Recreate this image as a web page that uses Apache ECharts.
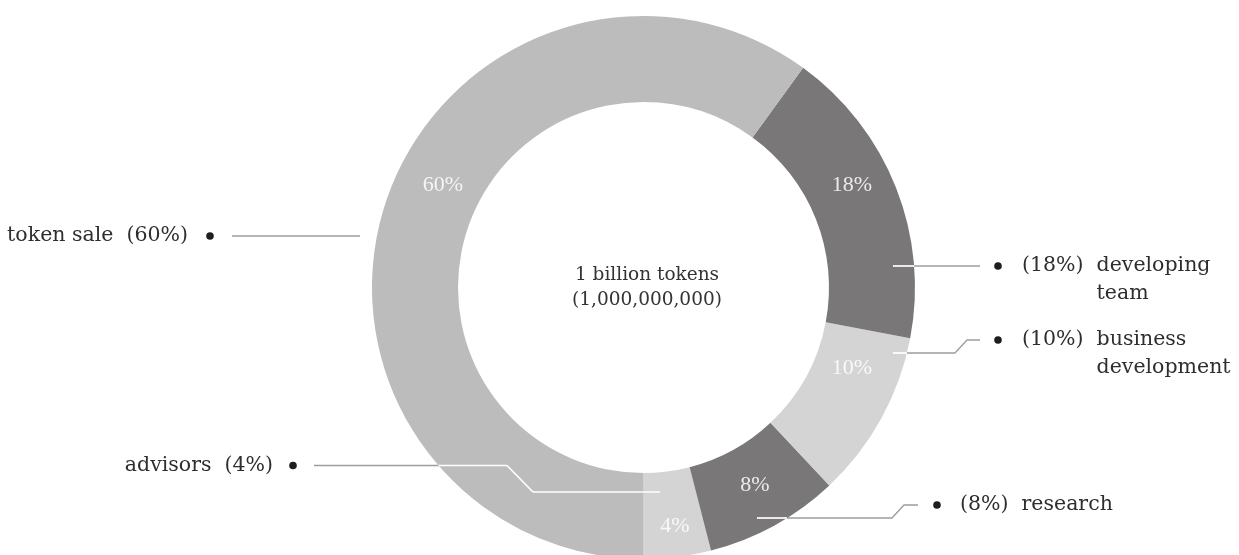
<!DOCTYPE html>
<html><head><meta charset="utf-8">
<script src="https://cdn.jsdelivr.net/npm/echarts@6/dist/echarts.min.js"></script>
<style>html,body{margin:0;padding:0;background:#fff}#chart{width:1239px;height:555px}</style>
</head><body><div id="chart"></div>
<script>
// ---- data ----
const categories = ['advisors', 'research', 'business\ndevelopment', 'developing\nteam', 'token sale'];
const values = [4, 8, 10, 18, 60];
const sliceColors = ['#d4d4d4', '#797777', '#d4d4d4', '#797777', '#bcbcbc'];
const centerLines = ['1 billion tokens', '(1,000,000,000)'];

// ---- layout ----
const CX = 643.5, CY = 287.5, R_IN = 185.5, R_OUT = 271.5;
const FONT = 'DejaVu Serif';
const TEXT_COLOR = '#2e2e2e';
const LINE_H = 28;
// inside percentage label offsets from centre
const insideOffsets = [[31.5, 238.5], [111.5, 197.5], [208.5, 80.5], [208.5, -102.5], [-200.5, -102.5]];
// callouts (offsets from centre): text anchor = first line centre
const callouts = [
  {side: 'left',  text: [-370.5, 178],  dot: [-350.5, 178],
   line: [[16.5, 204.5], [-110.5, 204.5], [-136.5, 178], [-329.5, 178]]},
  {side: 'right', text: [316.5, 217.5], dot: [293.5, 217.5],
   line: [[113.5, 230.5], [248.5, 230.5], [260.5, 217.5], [274.5, 217.5]]},
  {side: 'right', text: [378.5, 52.5],  dot: [354.5, 52.5],
   line: [[249.5, 65.5], [311.5, 65.5], [323.5, 52.5], [336.5, 52.5]]},
  {side: 'right', text: [378.5, -21.5], dot: [354.5, -21.5],
   line: [[249.5, -21.5], [336.5, -21.5]]},
  {side: 'left',  text: [-455.5, -51.5], dot: [-433.5, -51.5],
   line: [[-411.5, -51.5], [-283.5, -51.5]]}
];

const data = categories.map((n, i) => ({name: n, value: values[i], itemStyle: {color: sliceColors[i]}}));

function calloutText(i) {
  const pct = '(' + values[i] + '%)';
  const parts = categories[i].split('\n');
  if (callouts[i].side === 'left') {
    return '{n|' + parts[0] + '}  {p|' + pct + '}';
  }
  let s = '{p|' + pct + '}  {n|' + parts[0] + '}';
  for (let k = 1; k < parts.length; k++) s += '\n{ph|' + pct + '}  {n|' + parts[k] + '}';
  return s;
}

function clipInside(p0, p1) {
  const dx = p1[0] - p0[0], dy = p1[1] - p0[1];
  const fx = p0[0] - CX, fy = p0[1] - CY;
  const A = dx * dx + dy * dy, B = 2 * (fx * dx + fy * dy), C = fx * fx + fy * fy - R_OUT * R_OUT;
  const disc = B * B - 4 * A * C;
  if (disc <= 0) return null;
  const s = Math.sqrt(disc);
  let t1 = Math.max((-B - s) / (2 * A), 0), t2 = Math.min((-B + s) / (2 * A), 1);
  if (t2 <= t1) return null;
  return [[p0[0] + dx * t1, p0[1] + dy * t1], [p0[0] + dx * t2, p0[1] + dy * t2]];
}

const graphics = [];
callouts.forEach(c => {
  const pts = c.line.map(p => [CX + p[0], CY + p[1]]);
  graphics.push({type: 'polyline', z: 0, silent: true, shape: {points: pts},
    style: {stroke: '#9d9d9d', lineWidth: 1.3, fill: null}});
  for (let k = 0; k < pts.length - 1; k++) {
    const seg = clipInside(pts[k], pts[k + 1]);
    if (seg) graphics.push({type: 'line', z: 50, silent: true,
      shape: {x1: seg[0][0], y1: seg[0][1], x2: seg[1][0], y2: seg[1][1]},
      style: {stroke: '#ffffff', lineWidth: 1.7}});
  }
  graphics.push({type: 'circle', z: 50, silent: true, shape: {cx: CX + c.dot[0], cy: CY + c.dot[1], r: 3.8},
    style: {fill: '#1e1e1e'}});
});
graphics.push({type: 'text', z: 50, silent: true, x: CX + 3.5, y: CY,
  style: {text: centerLines.join('\n'), fontFamily: FONT, fontSize: 18.5, lineHeight: 25,
    fill: '#333', align: 'center', verticalAlign: 'middle'}});

const chart = echarts.init(document.getElementById('chart'), null, {renderer: 'canvas'});
const richBase = {fontFamily: FONT, fontSize: 20.5, color: TEXT_COLOR, lineHeight: LINE_H};
chart.setOption({
  animation: false,
  backgroundColor: '#ffffff',
  graphic: {elements: graphics},
  series: [
    {
      type: 'pie', z: 2, silent: true,
      center: [CX, CY], radius: [R_IN, R_OUT],
      startAngle: 270, clockwise: false, avoidLabelOverlap: false,
      itemStyle: {borderWidth: 0},
      emphasis: {disabled: true},
      data: data,
      label: {show: true, position: 'inside', formatter: p => values[p.dataIndex] + '%',
        fontFamily: 'Liberation Serif', fontSize: 22, color: 'rgba(255,255,255,0.85)'},
      labelLine: {show: false},
      labelLayout: p => ({x: CX + insideOffsets[p.dataIndex][0], y: CY + insideOffsets[p.dataIndex][1],
        align: 'center', verticalAlign: 'middle'})
    },
    {
      type: 'pie', z: 3, silent: true,
      center: [CX, CY], radius: [R_IN, R_OUT],
      startAngle: 270, clockwise: false, avoidLabelOverlap: false,
      itemStyle: {color: 'rgba(0,0,0,0)', borderWidth: 0},
      emphasis: {disabled: true},
      data: categories.map((n, i) => ({name: n, value: values[i]})),
      label: {show: true, position: 'outside', formatter: p => calloutText(p.dataIndex),
        fontFamily: FONT, fontSize: 20.5, color: TEXT_COLOR, lineHeight: LINE_H,
        rich: {n: richBase, p: richBase, ph: Object.assign({}, richBase, {color: 'rgba(0,0,0,0)'})}},
      labelLine: {show: false},
      labelLayout: p => {
        const c = callouts[p.dataIndex];
        return {x: CX + c.text[0], y: CY + c.text[1] - LINE_H / 2,
          align: c.side === 'left' ? 'right' : 'left', verticalAlign: 'top'};
      }
    }
  ]
});
</script></body></html>
